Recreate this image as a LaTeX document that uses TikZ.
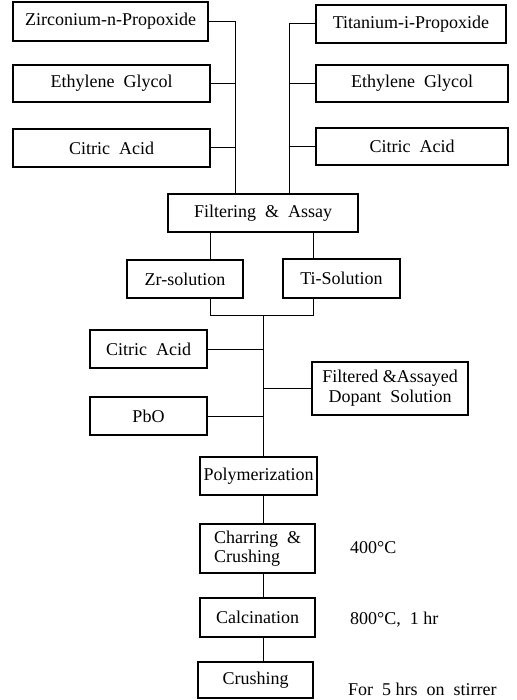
\documentclass[tikz,border=0pt]{standalone}
\usepackage{fontspec}
\setmainfont{Liberation Serif}
\begin{document}
\begin{tikzpicture}[x=1pt,y=-1pt,
  box/.style={draw,line width=1.5pt,inner sep=0pt,align=center,font=\fontsize{18}{19}\selectfont},
  conn/.style={line width=1pt},
  lbl/.style={anchor=west,inner sep=0pt,font=\fontsize{18}{19}\selectfont}]
\useasboundingbox (0,0) rectangle (516,700);
\node[box,minimum width=195,minimum height=39] (zr) at (110.5,21.5) {Zirconium-n-Propoxide};
\node[box,minimum width=197,minimum height=37] (egl) at (111.5,83.5) {Ethylene\ \ Glycol};
\node[box,minimum width=197,minimum height=38] (cal) at (111.5,148) {Citric\ \ Acid};
\node[box,minimum width=190,minimum height=38] (ti) at (411,24) {Titanium-i-Propoxide};
\node[box,minimum width=192,minimum height=37] (egr) at (412,83.5) {Ethylene\ \ Glycol};
\node[box,minimum width=192,minimum height=37] (car) at (412,146.5) {Citric\ \ Acid};
\node[box,minimum width=190,minimum height=38] (fa) at (263,213) {Filtering\ \ \&\ \ Assay};
\node[box,minimum width=116,minimum height=38] (zrs) at (185,279) {Zr-solution};
\node[box,minimum width=117,minimum height=39] (tis) at (341.5,278.5) {Ti-Solution};
\node[box,minimum width=117,minimum height=38] (cam) at (148.5,349) {Citric\ \ Acid};
\node[box,minimum width=156,minimum height=53,font=\fontsize{18}{20}\selectfont] (dop) at (390,388.5) {Filtered \&Assayed\\Dopant\ \ Solution};
\node[box,minimum width=117,minimum height=38] (pbo) at (148.5,416) {PbO};
\node[box,minimum width=117,minimum height=38] (poly) at (258.5,476) {Polymerization};
\node[box,minimum width=115,minimum height=49,align=left] (char) at (257.5,548.5) {Charring\ \ \&\\Crushing};
\node[box,minimum width=115,minimum height=39] (calc) at (257.5,617.5) {Calcination};
\node[box,minimum width=115,minimum height=36] (crush) at (255.5,680) {Crushing};
\node[lbl] (t400) at (350,548) {400°C};
\node[lbl] (t800) at (350,620) {800°C,\ \ 1 hr};
\node[lbl] (tstir) at (348,689) {For\ \ 5 hrs\ \ on\ \ stirrer};
\coordinate (lx) at (235,0);
\coordinate (rx) at (289,0);
\coordinate (zx) at (210,0);
\coordinate (tx) at (313,0);
\coordinate (j) at (263,315);
\draw[conn] (zr.east) -- (zr.east -| lx) -- (lx |- fa.north);
\draw[conn] (egl.east) -- (egl.east -| lx);
\draw[conn] (cal.east) -- (cal.east -| lx);
\draw[conn] (ti.west) -- (ti.west -| rx) -- (rx |- fa.north);
\draw[conn] (egr.west) -- (egr.west -| rx);
\draw[conn] (car.west) -- (car.west -| rx);
\draw[conn] (zx |- fa.south) -- (zx |- zrs.north);
\draw[conn] (tx |- fa.south) -- (tx |- tis.north);
\draw[conn] (zx |- zrs.south) -- (zx |- j) -- (tx |- j) -- (tx |- tis.south);
\draw[conn] (j) -- (j |- poly.north);
\draw[conn] (cam.east) -- (cam.east -| j);
\draw[conn] (pbo.east) -- (pbo.east -| j);
\draw[conn] (dop.west) -- (dop.west -| j);
\draw[conn] (j |- poly.south) -- (j |- char.north);
\draw[conn] (j |- char.south) -- (j |- calc.north);
\draw[conn] (j |- calc.south) -- (j |- crush.north);
\end{tikzpicture}
\end{document}
